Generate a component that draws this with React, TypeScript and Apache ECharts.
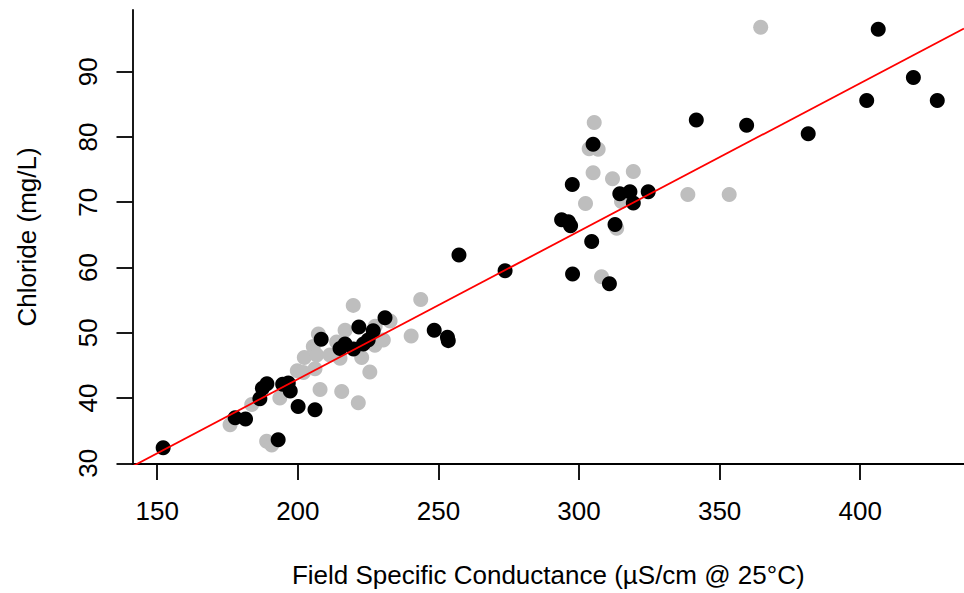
import React, { useEffect, useRef } from "react";
import * as echarts from "echarts";

// Black points: [conductance, chloride]
const blackPoints: number[][] = [
  [152.1, 32.4], [177.7, 37.0], [181.4, 36.8], [186.5, 39.9], [187.4, 41.5],
  [189.0, 42.2], [193.0, 33.6], [194.6, 42.1], [196.6, 42.3], [197.3, 41.1],
  [200.1, 38.7], [206.1, 38.2], [208.3, 49.0], [215.0, 47.6], [216.8, 48.3],
  [219.8, 47.5], [221.7, 50.9], [223.3, 48.3], [225.0, 48.9], [226.8, 50.3],
  [231.0, 52.3], [248.5, 50.4], [253.2, 49.3], [253.5, 48.8], [257.3, 61.9],
  [273.7, 59.5], [293.8, 67.3], [296.2, 67.0], [297.0, 66.4], [297.6, 72.7],
  [297.7, 59.0], [304.5, 64.0], [305.0, 78.9], [310.8, 57.5], [312.8, 66.6],
  [314.5, 71.3], [318.1, 71.6], [319.3, 69.9], [324.6, 71.6], [341.7, 82.6],
  [359.6, 81.8], [381.5, 80.5], [402.3, 85.6], [406.4, 96.5], [418.9, 89.1],
  [427.4, 85.6],
];

// Gray points: [conductance, chloride]
const grayPoints: number[][] = [
  [175.9, 35.9], [183.6, 39.0], [188.9, 33.4], [190.7, 32.8], [193.6, 40.0],
  [199.8, 44.2], [202.0, 43.9], [202.3, 46.2], [205.5, 47.9], [206.7, 46.6],
  [206.1, 44.5], [207.3, 49.8], [207.9, 41.3], [211.4, 46.6], [213.8, 48.6],
  [215.0, 46.1], [215.6, 41.0], [216.8, 50.4], [219.7, 54.2], [221.5, 39.3],
  [222.7, 46.2], [225.6, 44.0], [227.4, 48.1], [227.5, 51.0], [230.4, 48.9],
  [232.8, 51.8], [240.3, 49.5], [243.7, 55.1], [302.3, 69.8], [303.6, 78.2],
  [305.0, 74.5], [305.4, 82.2], [306.8, 78.1], [308.0, 58.6], [311.9, 73.6],
  [313.4, 66.0], [315.1, 70.1], [319.3, 74.7], [338.7, 71.2], [353.4, 71.2],
  [364.6, 96.8],
];

const xTicks = [150, 200, 250, 300, 350, 400];
const yTicks = [30, 40, 50, 60, 70, 80, 90];

const X_MIN = 141.2;
const X_MAX = 436.9;
const Y_MIN = 29.9;
const Y_MAX = 99.45;

// Fitted regression line: chloride = intercept + slope * conductance
const fitIntercept = -2.48;
const fitSlope = 0.2268;

const FONT = "'Liberation Sans', Arial, Helvetica, sans-serif";

export default function App() {
  const ref = useRef<HTMLDivElement>(null);

  useEffect(() => {
    if (!ref.current) return;
    const chart = echarts.init(ref.current, null, { renderer: "svg" });
    const lineData = [X_MIN, X_MAX].map((x) => [x, fitIntercept + fitSlope * x]);
    const axisLine = { lineStyle: { color: "#000", width: 1.8 } };
    chart.setOption({
      animation: false,
      backgroundColor: "#fff",
      grid: {
        left: 132.5,
        top: 10,
        right: 0,
        bottom: 129,
        outerBoundsMode: "none",
      },
      xAxis: {
        type: "value",
        min: X_MIN,
        max: X_MAX,
        axisLine: { show: true, onZero: false, ...axisLine },
        axisTick: {
          show: true,
          length: 16,
          customValues: xTicks,
          lineStyle: { color: "#000", width: 1.8 },
        },
        axisLabel: {
          customValues: xTicks,
          margin: 34,
          fontSize: 26,
          color: "#000",
          fontFamily: FONT,
        },
        splitLine: { show: false },
        name: "Field Specific Conductance (µS/cm @ 25°C)",
        nameLocation: "middle",
        nameGap: 111,
        nameTextStyle: {
          fontSize: 26,
          color: "#000",
          fontFamily: FONT,
          verticalAlign: "middle",
        },
      },
      yAxis: {
        type: "value",
        min: Y_MIN,
        max: Y_MAX,
        axisLine: { show: true, onZero: false, ...axisLine },
        axisTick: {
          show: true,
          length: 16,
          customValues: yTicks,
          lineStyle: { color: "#000", width: 1.8 },
        },
        axisLabel: {
          customValues: yTicks,
          rotate: 90,
          margin: 32,
          fontSize: 26,
          color: "#000",
          fontFamily: FONT,
        },
        splitLine: { show: false },
        name: "Chloride (mg/L)",
        nameLocation: "middle",
        nameGap: 106,
        nameTextStyle: {
          fontSize: 26,
          color: "#000",
          fontFamily: FONT,
          verticalAlign: "middle",
        },
      },
      series: [
        {
          type: "scatter",
          data: grayPoints,
          symbol: "circle",
          symbolSize: 15,
          itemStyle: { color: "#bebebe", opacity: 1 },
          z: 2,
        },
        {
          type: "scatter",
          data: blackPoints,
          symbol: "circle",
          symbolSize: 15,
          itemStyle: { color: "#000", opacity: 1 },
          z: 3,
        },
        {
          type: "line",
          data: lineData,
          showSymbol: false,
          symbol: "none",
          clip: true,
          lineStyle: { color: "#ff0000", width: 1.8 },
          z: 4,
        },
      ],
    });
    return () => chart.dispose();
  }, []);

  return (
    <div
      ref={ref}
      style={{ position: "fixed", left: 0, top: 0, width: 964, height: 593 }}
    />
  );
}
